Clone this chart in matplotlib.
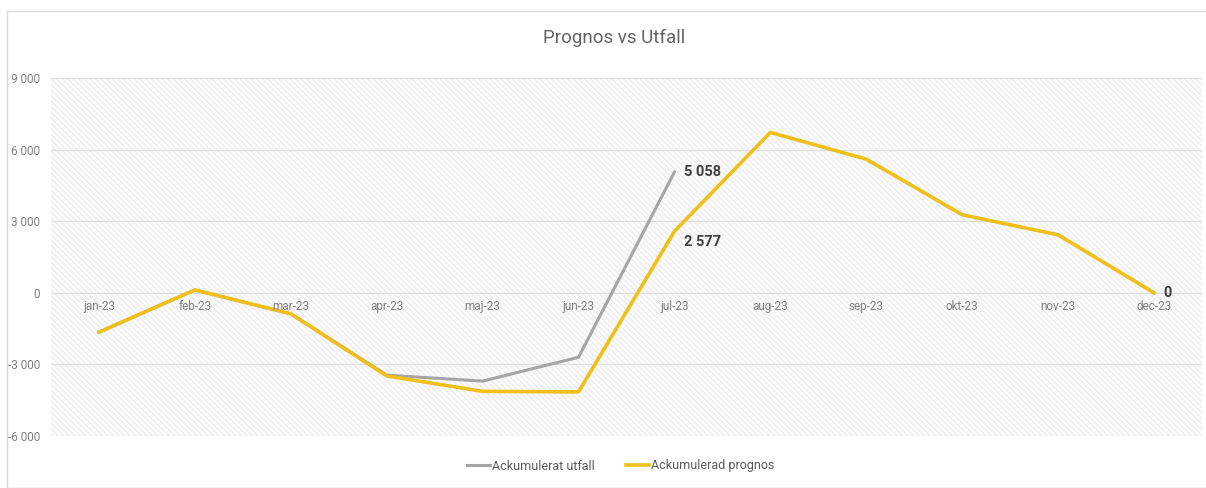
import matplotlib.pyplot as plt
from matplotlib.patches import Rectangle
from matplotlib.ticker import FuncFormatter

plt.rcParams['font.family'] = ['Liberation Sans Narrow', 'Roboto', 'DejaVu Sans']
plt.rcParams['hatch.linewidth'] = 0.5

months = ['jan-23', 'feb-23', 'mar-23', 'apr-23', 'maj-23', 'jun-23',
          'jul-23', 'aug-23', 'sep-23', 'okt-23', 'nov-23', 'dec-23']
utfall = [-1650, 120, -880, -3450, -3700, -2700, 5058]
prognos = [-1650, 120, -880, -3480, -4130, -4150, 2577, 6720, 5600, 3270, 2430, 0]
yticks = [-6000, -3000, 0, 3000, 6000, 9000]

gray = '#a5a5a5'
gold = '#f0c01a'
txt = '#808080'

fig = plt.figure(figsize=(12.06, 4.88), dpi=100)
fig.patches.append(Rectangle((7/1206, 0), 1.0, 1 - 11/488, transform=fig.transFigure,
                             fill=False, edgecolor='#d9d9d9', lw=1))
ax = fig.add_axes([51/1206, 1 - 436/488, 1151/1206, 358/488])

x = list(range(len(months)))
ax.set_xlim(-0.5, len(months) - 0.5)
ax.set_ylim(-6000, 9000)

# hatched plot area
ax.add_patch(Rectangle((0, 0), 1, 1, transform=ax.transAxes, facecolor='#fbfbfb',
                       edgecolor='#e4e4e4', hatch='\\\\\\\\\\\\', lw=0, zorder=0))

for y in yticks:
    ax.axhline(y, color='#dedede', lw=0.8, zorder=1)

ax.plot(x[:len(utfall)], utfall, color=gray, lw=2.2, zorder=3, label='Ackumulerat utfall')
ax.plot(x, prognos, color=gold, lw=2.6, zorder=4, label='Ackumulerad prognos')

fmt = lambda v: f'{v:,.0f}'.replace(',', ' ')
lab = dict(fontsize=10.5, fontweight='bold', color='#404040', va='center', ha='left', zorder=5)
ax.text(x[6] + 0.1, utfall[6], fmt(utfall[6]), **lab)
ax.text(x[6] + 0.1, prognos[6] - 450, fmt(prognos[6]), **lab)
ax.text(x[11] + 0.1, prognos[11], fmt(prognos[11]), **lab)

for i, m in enumerate(months):
    ax.text(i, -300, m, ha='center', va='top', fontsize=8.5, color=txt, zorder=5)

ax.set_xticks([])
ax.set_yticks(yticks)
ax.yaxis.set_major_formatter(FuncFormatter(lambda v, p: fmt(v)))
ax.tick_params(axis='y', length=0, labelsize=8.5, labelcolor=txt, pad=8)
for s in ax.spines.values():
    s.set_visible(False)

fig.text(614/1206, 1 - 38/488, 'Prognos vs Utfall', ha='center', va='center',
         fontsize=13.5, color='#636363')

fig.legend(loc='center', bbox_to_anchor=(621/1206, 1 - 466/488), ncol=2, frameon=False,
           fontsize=9, labelcolor='#595959', handlelength=1.8, handletextpad=0.2,
           columnspacing=2.5)

fig.savefig('out.png', dpi=100)
